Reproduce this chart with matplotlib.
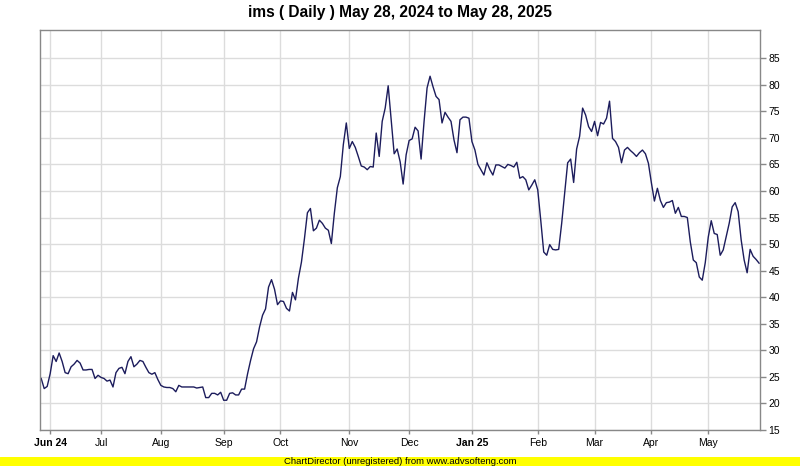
import matplotlib.pyplot as plt

plt.rcParams['font.family'] = ['Liberation Sans', 'DejaVu Sans']

# daily closing values, in order
close = [
    24.7, 22.8, 23.2, 25.6, 29.0, 27.9, 29.5, 27.9, 25.8, 25.6,
    26.9, 27.4, 28.1, 27.6, 26.3, 26.3, 26.4, 26.4, 24.7, 25.3,
    24.9, 24.7, 24.2, 24.4, 23.1, 25.8, 26.6, 26.8, 25.6, 27.9,
    28.8, 26.9, 27.4, 28.1, 27.9, 26.8, 25.8, 25.5, 25.8,
    24.5, 23.4, 23.1, 23.0, 23.0, 22.8, 22.2, 23.4, 23.1, 23.1,
    23.1, 23.1, 23.1, 22.9, 23.0, 23.1, 21.1, 21.1, 21.9, 21.9,
    21.6, 22.1, 20.6, 20.6, 21.9, 22.0, 21.6, 21.6, 22.7, 22.7,
    25.6, 28.1, 30.3, 31.6, 34.4, 36.6, 37.8, 41.9, 43.3,
    41.5, 38.6, 39.3, 39.2, 37.9, 37.4, 40.9, 39.5, 43.6, 46.6,
    51.0, 55.9, 56.7, 52.5, 53.0, 54.5, 53.9, 53.0, 52.6, 50.1,
    55.8, 60.6, 62.7, 68.7, 72.8, 68.0, 69.3, 68.2, 66.5, 64.7,
    64.5, 64.0, 64.6, 64.5, 70.9, 66.5, 73.1, 75.6, 79.8, 73.4,
    67.0, 67.9, 65.5, 61.3,
    66.8, 69.5, 69.8, 72.0, 71.3, 66.0, 73.1, 79.4, 81.6, 79.6,
    77.8, 77.2, 72.8, 74.8, 73.9, 73.1, 69.6, 67.2, 73.4, 73.9,
    73.9, 73.7, 69.3, 67.7, 65.0, 64.0, 63.0, 65.3, 64.0, 63.0,
    64.9, 64.9, 64.6, 64.3, 65.0, 64.8, 64.5, 65.4, 62.4, 62.7,
    62.1, 60.2, 61.1, 62.1,
    60.2, 54.5, 48.5, 47.9, 49.9, 49.0, 48.9, 49.0, 53.9, 59.6,
    65.3, 66.0, 61.6, 67.9, 70.3, 75.6, 74.3, 72.1, 71.2, 73.1,
    70.4, 72.9, 72.6, 73.7, 76.9, 69.9, 69.3, 68.2, 65.3, 67.7,
    68.2, 67.6, 67.1, 66.5, 67.2, 67.7, 67.0, 65.2,
    61.5, 58.1, 60.5, 58.2, 56.9, 57.8, 57.9, 58.2, 55.8, 56.9,
    55.2, 55.2, 55.0, 50.4, 47.0, 46.5, 43.8, 43.2, 46.5, 51.3,
    54.4, 52.0, 51.8, 47.9, 48.9, 51.4, 53.9, 57.0, 57.8, 56.1,
    50.8, 47.0, 44.6, 49.0, 47.7, 47.1, 46.4,
]

# first trading day of each month (position in close)
month_idx = [3, 20, 40, 61, 80, 103, 123, 144, 166, 185, 204, 223]
month_labels = ['Jun 24', 'Jul', 'Aug', 'Sep', 'Oct', 'Nov', 'Dec',
                'Jan 25', 'Feb', 'Mar', 'Apr', 'May']
y_ticks = [15, 20, 25, 30, 35, 40, 45, 50, 55, 60, 65, 70, 75, 80, 85]

fig = plt.figure(figsize=(8, 4.66), dpi=100)
ax = fig.add_axes([40 / 800, 1 - 430 / 466, 720 / 800, 400 / 466])

ax.plot(range(len(close)), close, color='#1c1c5c', lw=1.0)

ax.set_xlim(-0.4, len(close) - 1 + 0.3)
ax.set_ylim(15, 90.3)

ax.yaxis.tick_right()
ax.set_yticks(y_ticks)
ax.set_yticklabels([str(v) for v in y_ticks])
ax.set_xticks(month_idx)
ax.set_xticklabels(month_labels)
for lab in ax.get_xticklabels():
    if lab.get_text() in ('Jun 24', 'Jan 25'):
        lab.set_fontweight('bold')

ax.tick_params(axis='y', which='both', direction='out', length=4, width=1,
               color='#888888', labelsize=7.5, pad=2, right=True, left=False)
ax.tick_params(axis='x', direction='out', length=3, width=1,
               color='#888888', labelsize=7.5, pad=3)

ax.grid(True, color='#dcdcdc', lw=1)
ax.set_axisbelow(True)
for s in ax.spines.values():
    s.set_color('#888888')
    s.set_linewidth(1)

fig.text(0.5, 1 - 13 / 466, 'ims ( Daily ) May 28, 2024 to May 28, 2025',
         ha='center', va='center', fontsize=11.2, fontweight='bold')

# yellow footer band
band = fig.add_axes([0, 0, 1, 9 / 466])
band.set_axis_off()
band.add_patch(plt.Rectangle((0, 0), 1, 1, color='#ffff00', transform=band.transAxes))
fig.text(0.5, 4.5 / 466, 'ChartDirector (unregistered) from www.advsofteng.com',
         ha='center', va='center', fontsize=6.8)

fig.savefig('out.png', dpi=100)
